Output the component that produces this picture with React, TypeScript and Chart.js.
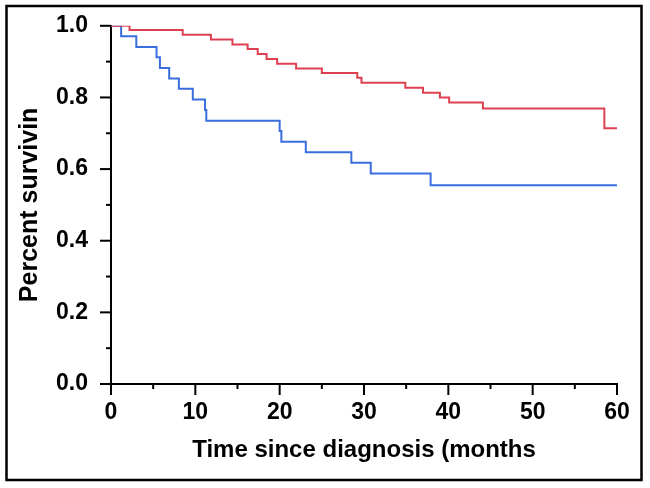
import React, { useEffect, useRef } from "react";
import { Chart, registerables } from "chart.js";

Chart.register(...registerables);

// Kaplan-Meier step data (time in months, survival proportion)
const redTimes = [0, 2.2, 8.5, 11.85, 14.4, 16.2, 17.4, 18.45, 19.7, 21.95, 25.0, 29.2, 29.7, 34.9, 37.0, 39.0, 40.1, 44.1, 58.5, 60];
const redSurv = [1.0, 0.988, 0.975, 0.962, 0.948, 0.935, 0.921, 0.907, 0.894, 0.881, 0.868, 0.855, 0.841, 0.827, 0.813, 0.8, 0.786, 0.769, 0.714, 0.714];

const blueTimes = [0, 1.2, 3.0, 5.4, 5.8, 6.9, 8.05, 9.7, 11.15, 11.3, 20.0, 20.2, 23.1, 28.5, 30.8, 37.9, 60];
const blueSurv = [1.0, 0.971, 0.941, 0.912, 0.882, 0.853, 0.824, 0.794, 0.765, 0.735, 0.706, 0.676, 0.647, 0.618, 0.588, 0.555, 0.555];

const xTitle = "Time since diagnosis (months";
const yTitle = "Percent survivin";

const FONT = "'Liberation Sans', Arial, sans-serif";

const tickPlugin = {
  id: "kmTicks",
  afterDraw(chart: any) {
    const ctx = chart.ctx;
    const xs = chart.scales.x;
    const ys = chart.scales.y;
    ctx.save();
    ctx.strokeStyle = "#000";
    ctx.lineWidth = 2;
    const xv = xs.ticks.map((t: any) => t.value);
    const yb = chart.chartArea.bottom;
    xv.forEach((v: number, i: number) => {
      const p = xs.getPixelForValue(v);
      ctx.beginPath();
      ctx.moveTo(p, yb);
      ctx.lineTo(p, yb + 11);
      ctx.stroke();
      if (i < xv.length - 1) {
        const m = xs.getPixelForValue((v + xv[i + 1]) / 2);
        ctx.beginPath();
        ctx.moveTo(m, yb);
        ctx.lineTo(m, yb + 5);
        ctx.stroke();
      }
    });
    const yv = ys.ticks.map((t: any) => t.value);
    const xl = chart.chartArea.left;
    yv.forEach((v: number, i: number) => {
      const p = ys.getPixelForValue(v);
      ctx.beginPath();
      ctx.moveTo(xl, p);
      ctx.lineTo(xl - 11, p);
      ctx.stroke();
      if (i < yv.length - 1) {
        const m = ys.getPixelForValue((v + yv[i + 1]) / 2);
        ctx.beginPath();
        ctx.moveTo(xl, m);
        ctx.lineTo(xl - 5, m);
        ctx.stroke();
      }
    });
    ctx.lineWidth = 2.5;
    ctx.strokeRect(6.5, 6, 635, 474);
    ctx.restore();
  },
};

export default function App() {
  const ref = useRef<HTMLCanvasElement>(null);
  useEffect(() => {
    if (!ref.current) return;
    const chart = new Chart(ref.current, {
      type: "line",
      data: {
        datasets: [
          {
            label: "Group A",
            data: redTimes.map((t, i) => ({ x: t, y: redSurv[i] })),
            borderColor: "rgb(222,64,82)",
            borderWidth: 2,
            pointRadius: 0,
            stepped: "before",
            fill: false,
          },
          {
            label: "Group B",
            data: blueTimes.map((t, i) => ({ x: t, y: blueSurv[i] })),
            borderColor: "rgb(58,110,222)",
            borderWidth: 2,
            pointRadius: 0,
            stepped: "before",
            fill: false,
          },
        ],
      },
      options: {
        animation: false,
        responsive: false,
        devicePixelRatio: 1,
        layout: { padding: { left: 0, top: 23, right: 33, bottom: 0 } },
        plugins: { legend: { display: false }, tooltip: { enabled: false } },
        scales: {
          x: {
            type: "linear",
            min: 0,
            max: 60,
            afterFit: (s: any) => { s.height = 104; },
            ticks: { stepSize: 10, color: "#000", padding: 4, font: { family: FONT, size: 23, weight: "bold" } },
            grid: { drawOnChartArea: false, drawTicks: true, tickLength: 11, tickColor: "rgba(0,0,0,0)" },
            border: { display: true, color: "#000", width: 2 },
            title: { display: true, text: xTitle, color: "#000", padding: { top: 0, bottom: 23 }, font: { family: FONT, size: 24, weight: "bold" } },
          },
          y: {
            type: "linear",
            min: 0,
            max: 1,
            afterFit: (s: any) => { s.width = 111; },
            ticks: { stepSize: 0.2, color: "#000", padding: 12, callback: (v: any) => Number(v).toFixed(1), font: { family: FONT, size: 23, weight: "bold" } },
            grid: { drawOnChartArea: false, drawTicks: true, tickLength: 11, tickColor: "rgba(0,0,0,0)" },
            border: { display: true, color: "#000", width: 2 },
            title: { display: true, text: yTitle, color: "#000", padding: { top: 15, bottom: 0 }, font: { family: FONT, size: 25, weight: "bold" } },
          },
        },
      },
      plugins: [tickPlugin],
    });
    return () => chart.destroy();
  }, []);
  return (
    <div style={{ position: "fixed", left: 0, top: 0, width: 650, height: 488, background: "#fff" }}>
      <canvas ref={ref} width={650} height={488} style={{ display: "block" }} />
    </div>
  );
}
